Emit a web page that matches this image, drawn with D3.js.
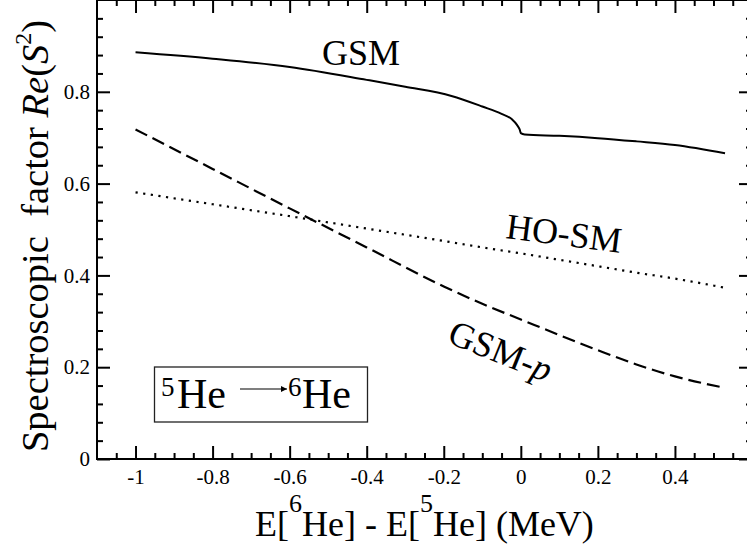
<!DOCTYPE html>
<html>
<head>
<meta charset="utf-8">
<script src="https://cdn.jsdelivr.net/npm/d3@7"></script>
<style>
  body { margin: 0; background: #fff; }
</style>
</head>
<body>
<div id="chart"></div>
<script>
var svgWidth = 747;
var svgHeight = 548;
var fontName = "'Liberation Serif'";

// tick labels
var xTicks = [-1, -0.8, -0.6, -0.4, -0.2, 0, 0.2, 0.4];
var yTicks = [0, 0.2, 0.4, 0.6, 0.8];

// GSM (solid), kink at threshold E=0
var gsmE = [-1, -0.8, -0.6, -0.4, -0.3, -0.18, -0.1, -0.05, -0.023, -0.01, -0.003, 0, 0.01, 0.1, 0.2, 0.3, 0.4, 0.53];
var gsmS = [0.886, 0.872, 0.854, 0.826, 0.811, 0.791, 0.768, 0.752, 0.740, 0.728, 0.718, 0.710, 0.707, 0.704, 0.699, 0.692, 0.684, 0.666];

// HO-SM (dotted) and GSM-p (dashed)
var energies = [-1, -0.8, -0.6, -0.4, -0.2, -0.1, 0, 0.1, 0.2, 0.3, 0.4, 0.53];
var hoSM = [0.581, 0.555, 0.529, 0.502, 0.475, 0.461, 0.448, 0.434, 0.420, 0.406, 0.393, 0.373];
var gsmP = [0.718, 0.632, 0.546, 0.461, 0.376, 0.338, 0.304, 0.270, 0.237, 0.206, 0.180, 0.155];

var svg = d3.select("#chart")
  .append("svg")
  .attr("width", svgWidth)
  .attr("height", svgHeight);

var x = d3.scaleLinear().domain([-1.1, 0.6]).range([97, 752]);
var y = d3.scaleLinear().domain([0, 1]).range([459, 0]);

function isMajor(v) {
  return Math.abs(v / 0.2 - Math.round(v / 0.2)) < 1e-6;
}
var xMinor = d3.range(-21, 12).map(i => Math.round(i * 5) / 100).filter(v => !isMajor(v));
var yMinor = d3.range(1, 25).map(i => Math.round(i * 4) / 100).filter(v => !isMajor(v));

function styleAxis(g) {
  g.attr("font-family", null);
  g.select(".domain").remove();
  g.selectAll(".tick line").attr("stroke", "#000").attr("stroke-width", 2);
  g.selectAll("text").attr("font-size", 21).attr("fill", "#000");
}

// bottom
svg.append("g").attr("transform", "translate(0,459)")
  .call(d3.axisBottom(x).tickValues(xTicks).tickSize(-13).tickPadding(10).tickFormat(d => String(d)))
  .call(styleAxis);
svg.append("g").attr("transform", "translate(0,459)")
  .call(d3.axisBottom(x).tickValues(xMinor).tickSize(-6).tickFormat(""))
  .call(styleAxis);
// top
svg.append("g")
  .call(d3.axisTop(x).tickValues(xTicks).tickSize(-13).tickFormat(""))
  .call(styleAxis);
svg.append("g")
  .call(d3.axisTop(x).tickValues(xMinor).tickSize(-6).tickFormat(""))
  .call(styleAxis);
// left
svg.append("g").attr("transform", "translate(97,0)")
  .call(d3.axisLeft(y).tickValues(yTicks).tickSize(-13).tickPadding(7).tickFormat(d => String(d)))
  .call(styleAxis);
svg.append("g").attr("transform", "translate(97,0)")
  .call(d3.axisLeft(y).tickValues(yMinor).tickSize(-6).tickFormat(""))
  .call(styleAxis);
// right
svg.append("g").attr("transform", "translate(752,0)")
  .call(d3.axisRight(y).tickValues(yTicks).tickSize(-13).tickFormat(""))
  .call(styleAxis);
svg.append("g").attr("transform", "translate(752,0)")
  .call(d3.axisRight(y).tickValues(yMinor).tickSize(-6).tickFormat(""))
  .call(styleAxis);

// frame
svg.append("rect")
  .attr("x", x(-1.1)).attr("y", y(1))
  .attr("width", x(0.6) - x(-1.1)).attr("height", y(0) - y(1))
  .attr("fill", "none").attr("stroke", "#000").attr("stroke-width", 2);

// curves
var line = d3.line()
  .x(d => x(d[0]))
  .y(d => y(d[1]))
  .curve(d3.curveMonotoneX);

svg.append("path")
  .datum(d3.zip(gsmE, gsmS))
  .attr("d", line)
  .attr("fill", "none").attr("stroke", "#000").attr("stroke-width", 2);

svg.append("path")
  .datum(d3.zip(energies, hoSM))
  .attr("d", line)
  .attr("fill", "none").attr("stroke", "#000").attr("stroke-width", 2.2)
  .attr("stroke-dasharray", "2.2,5.5");

svg.append("path")
  .datum(d3.zip(energies, gsmP))
  .attr("d", line)
  .attr("fill", "none").attr("stroke", "#000").attr("stroke-width", 2.2)
  .attr("stroke-dasharray", "13,6");

// curve labels
svg.append("text").attr("x", 322).attr("y", 65).attr("font-size", 36).text("GSM");
svg.append("text").attr("transform", "translate(505,238) rotate(7.3)").attr("font-size", 36).text("HO-SM");
var lp = svg.append("text").attr("transform", "translate(446,342) rotate(22)").attr("font-size", 36);
lp.append("tspan").text("GSM-");
lp.append("tspan").style("font-style", "italic").text("p");

// legend box
svg.append("rect")
  .attr("x", 154.5).attr("y", 367).attr("width", 213).attr("height", 55)
  .attr("fill", "none").attr("stroke", "#222").attr("stroke-width", 1.3);
svg.append("text").attr("x", 161).attr("y", 396).attr("font-size", 27).text("5");
svg.append("text").attr("x", 177).attr("y", 408).attr("font-size", 42).text("He");
svg.append("defs").append("marker")
  .attr("id", "arrow").attr("viewBox", "0 0 10 10").attr("refX", 10).attr("refY", 5)
  .attr("markerWidth", 9).attr("markerHeight", 6).attr("markerUnits", "userSpaceOnUse")
  .attr("orient", "auto")
  .append("path").attr("d", "M0,0 L10,5 L0,10 Z").attr("fill", "#000");
svg.append("line")
  .attr("x1", 240).attr("y1", 389).attr("x2", 287).attr("y2", 389)
  .attr("stroke", "#000").attr("stroke-width", 1.2)
  .attr("marker-end", "url(#arrow)");
svg.append("text").attr("x", 288).attr("y", 396).attr("font-size", 27).text("6");
svg.append("text").attr("x", 302).attr("y", 408).attr("font-size", 42).text("He");

// axis titles
var xt = svg.append("text").attr("x", 255).attr("y", 536).attr("font-size", 36);
xt.append("tspan").text("E[");
xt.append("tspan").attr("font-size", 26).attr("dy", -24).text("6");
xt.append("tspan").attr("dy", 24).text("He] - E[");
xt.append("tspan").attr("font-size", 26).attr("dy", -24).text("5");
xt.append("tspan").attr("dy", 24).text("He] (MeV)");

var yt = svg.append("text")
  .attr("transform", "translate(48,236) rotate(-90)")
  .attr("text-anchor", "middle")
  .attr("font-size", 38.5);
yt.append("tspan").text("Spectroscopic\u00a0\u00a0factor ");
yt.append("tspan").style("font-style", "italic").text("Re");
yt.append("tspan").text("(");
yt.append("tspan").style("font-style", "italic").text("S");
yt.append("tspan").attr("font-size", 24).attr("dy", -17).text("2");
yt.append("tspan").attr("dy", 17).text(")");

// serif everywhere, set inline
svg.selectAll("text").style("font-family", fontName).style("fill", "#000");
</script>
</body>
</html>
